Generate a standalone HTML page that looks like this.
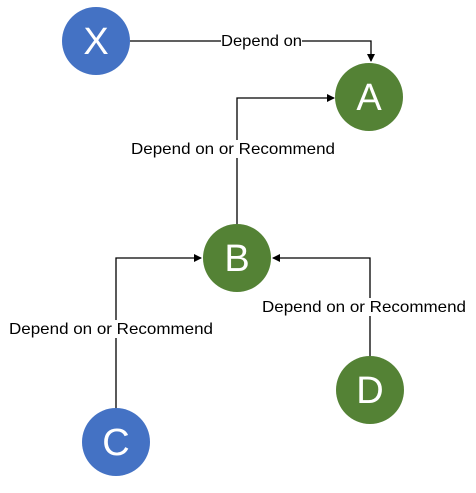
<!DOCTYPE html>
<html><head><style>body{margin:0;background:#fff}</style></head><body>
<svg width="476" height="488" xmlns="http://www.w3.org/2000/svg" font-family="Liberation Sans, sans-serif">
<defs><marker id="a" markerWidth="8" markerHeight="8" refX="7" refY="4" orient="auto" markerUnits="userSpaceOnUse"><path d="M0,0 L8,4 L0,8 z" fill="#000"/></marker></defs>
<g fill="none" stroke="#000" stroke-width="1.3">
<path d="M130,41 H371 V61" marker-end="url(#a)"/>
<path d="M237,224 V98 H334" marker-end="url(#a)"/>
<path d="M116,408 V258 H201" marker-end="url(#a)"/>
<path d="M370,356 V258 H273" marker-end="url(#a)"/>
</g>
<g font-size="16" fill="#000">
<rect x="221" y="32" width="81" height="18" fill="#fff"/><text x="221" y="46" textLength="81" lengthAdjust="spacingAndGlyphs">Depend on</text>
<rect x="131" y="140" width="204" height="18" fill="#fff"/><text x="131" y="154" textLength="204" lengthAdjust="spacingAndGlyphs">Depend on or Recommend</text>
<rect x="9" y="320" width="204" height="18" fill="#fff"/><text x="9" y="334" textLength="204" lengthAdjust="spacingAndGlyphs">Depend on or Recommend</text>
<rect x="262" y="298" width="204" height="18" fill="#fff"/><text x="262" y="312" textLength="204" lengthAdjust="spacingAndGlyphs">Depend on or Recommend</text>
</g>
<g font-size="38" text-anchor="middle" fill="#fff">
<circle cx="96" cy="41" r="34" fill="#4472C4"/><text x="96" y="54">X</text>
<circle cx="369" cy="97" r="34" fill="#548235"/><text x="369" y="110">A</text>
<circle cx="237" cy="258" r="34" fill="#548235"/><text x="237" y="271">B</text>
<circle cx="116" cy="442" r="34" fill="#4472C4"/><text x="116" y="455">C</text>
<circle cx="370" cy="390" r="34" fill="#548235"/><text x="370" y="403">D</text>
</g>
</svg>
</body></html>
